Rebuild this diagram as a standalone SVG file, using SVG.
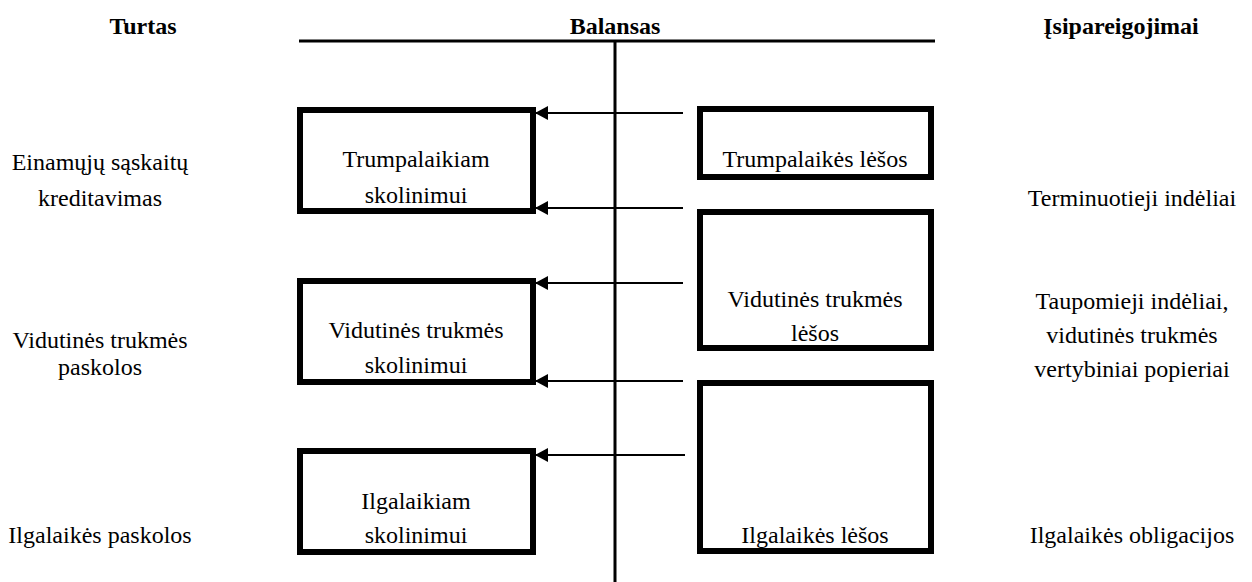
<svg xmlns="http://www.w3.org/2000/svg" width="1252" height="582" viewBox="0 0 1252 582">
  <style>
    .t { font-family: "Liberation Serif", "Times New Roman", serif; font-size: 24px; fill: #000; text-anchor: middle; }
    .h { font-family: "Liberation Serif", "Times New Roman", serif; font-size: 24px; font-weight: bold; fill: #000; text-anchor: middle; }
    .box { fill: #fff; stroke: #000; stroke-width: 6; }
    .axis { stroke: #000; stroke-width: 3; fill: none; }
    .flow { stroke: #000; stroke-width: 2; fill: none; marker-end: url(#arrow); }
  </style>
  <defs>
    <marker id="arrow" markerWidth="14" markerHeight="14" refX="13" refY="7" orient="auto" markerUnits="userSpaceOnUse">
      <path d="M0,0 L13,7 L0,14 Z" fill="#000"/>
    </marker>
  </defs>

  <rect width="1252" height="582" fill="#fff"/>

  <!-- column headings -->
  <g id="headings">
    <text class="h" x="143" y="34">Turtas</text>
    <text class="h" x="615" y="34">Balansas</text>
    <text class="h" x="1121" y="34">Įsipareigojimai</text>
  </g>

  <!-- balance sheet T-axis -->
  <g id="balance-axis">
    <line class="axis" x1="299" y1="41" x2="935" y2="41"/>
    <line class="axis" x1="615" y1="41" x2="615" y2="582"/>
  </g>

  <!-- asset side: lending boxes -->
  <g id="short-term-lending">
    <rect class="box" x="300" y="110" width="233" height="101"/>
    <text class="t" x="416" y="167">Trumpalaikiam</text>
    <text class="t" x="416" y="203">skolinimui</text>
  </g>
  <g id="medium-term-lending">
    <rect class="box" x="300" y="281" width="233" height="101"/>
    <text class="t" x="416" y="338">Vidutinės trukmės</text>
    <text class="t" x="416" y="373">skolinimui</text>
  </g>
  <g id="long-term-lending">
    <rect class="box" x="300" y="451" width="233" height="101"/>
    <text class="t" x="416" y="509">Ilgalaikiam</text>
    <text class="t" x="416" y="543">skolinimui</text>
  </g>

  <!-- liability side: funding boxes -->
  <g id="short-term-funds">
    <rect class="box" x="700" y="109" width="231" height="68"/>
    <text class="t" x="815" y="167">Trumpalaikės lėšos</text>
  </g>
  <g id="medium-term-funds">
    <rect class="box" x="700" y="212" width="231" height="136"/>
    <text class="t" x="815" y="307">Vidutinės trukmės</text>
    <text class="t" x="815" y="341">lėšos</text>
  </g>
  <g id="long-term-funds">
    <rect class="box" x="700" y="383" width="231" height="168"/>
    <text class="t" x="815" y="543">Ilgalaikės lėšos</text>
  </g>

  <!-- flows of funds from liabilities to assets -->
  <g id="connectors">
    <line class="flow" x1="683" y1="113" x2="535" y2="113"/>
    <line class="flow" x1="683" y1="208" x2="535" y2="208"/>
    <line class="flow" x1="683" y1="283" x2="535" y2="283"/>
    <line class="flow" x1="683" y1="381" x2="535" y2="381"/>
    <line class="flow" x1="685" y1="455" x2="535" y2="455"/>
  </g>

  <!-- asset descriptions -->
  <g id="asset-labels">
    <text class="t" x="100" y="170">Einamųjų sąskaitų</text>
    <text class="t" x="100" y="206">kreditavimas</text>
    <text class="t" x="100" y="348">Vidutinės trukmės</text>
    <text class="t" x="100" y="375">paskolos</text>
    <text class="t" x="100" y="543">Ilgalaikės paskolos</text>
  </g>

  <!-- liability descriptions -->
  <g id="liability-labels">
    <text class="t" x="1132" y="206">Terminuotieji indėliai</text>
    <text class="t" x="1132" y="309">Taupomieji indėliai,</text>
    <text class="t" x="1132" y="343">vidutinės trukmės</text>
    <text class="t" x="1132" y="377">vertybiniai popieriai</text>
    <text class="t" x="1132" y="543">Ilgalaikės obligacijos</text>
  </g>
</svg>
